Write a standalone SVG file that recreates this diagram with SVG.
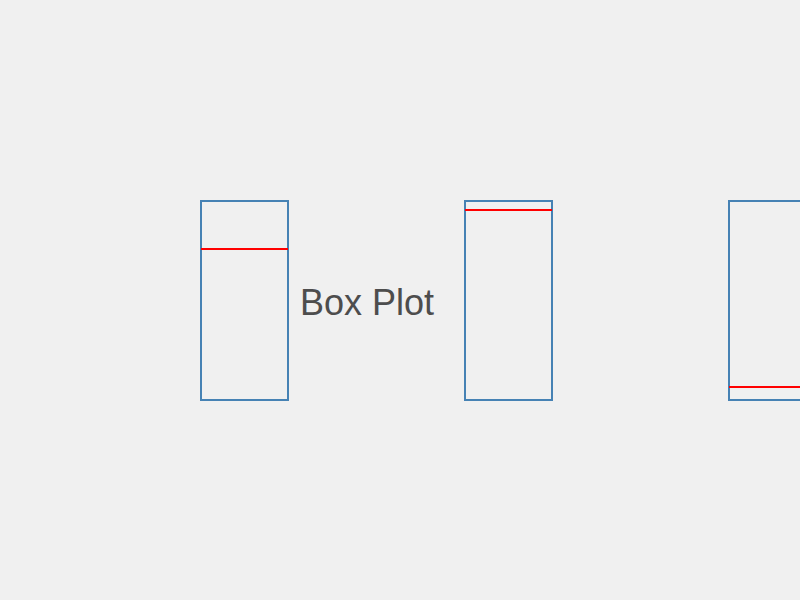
<svg xmlns="http://www.w3.org/2000/svg" width="800" height="600" viewBox="0 0 800 600">
<style>
.box{fill:none;stroke:#4682b4;stroke-width:2}
.med{stroke:#ff0000;stroke-width:2}
.title{font-family:"Liberation Sans",Arial,sans-serif;font-size:36px;fill:#4d4d4d}
</style>
<rect width="800" height="600" fill="#f0f0f0"/>
<g id="box1">
<rect class="box" x="201" y="201" width="87" height="199"/>
<line class="med" x1="201" y1="249" x2="288" y2="249"/>
</g>
<g id="box2">
<rect class="box" x="465" y="201" width="87" height="199"/>
<line class="med" x1="465" y1="210" x2="552" y2="210"/>
</g>
<g id="box3">
<rect class="box" x="729" y="201" width="87" height="199"/>
<line class="med" x1="729" y1="387" x2="816" y2="387"/>
</g>
<g id="connectors"></g>
<text class="title" x="300" y="315">Box Plot</text>
</svg>
